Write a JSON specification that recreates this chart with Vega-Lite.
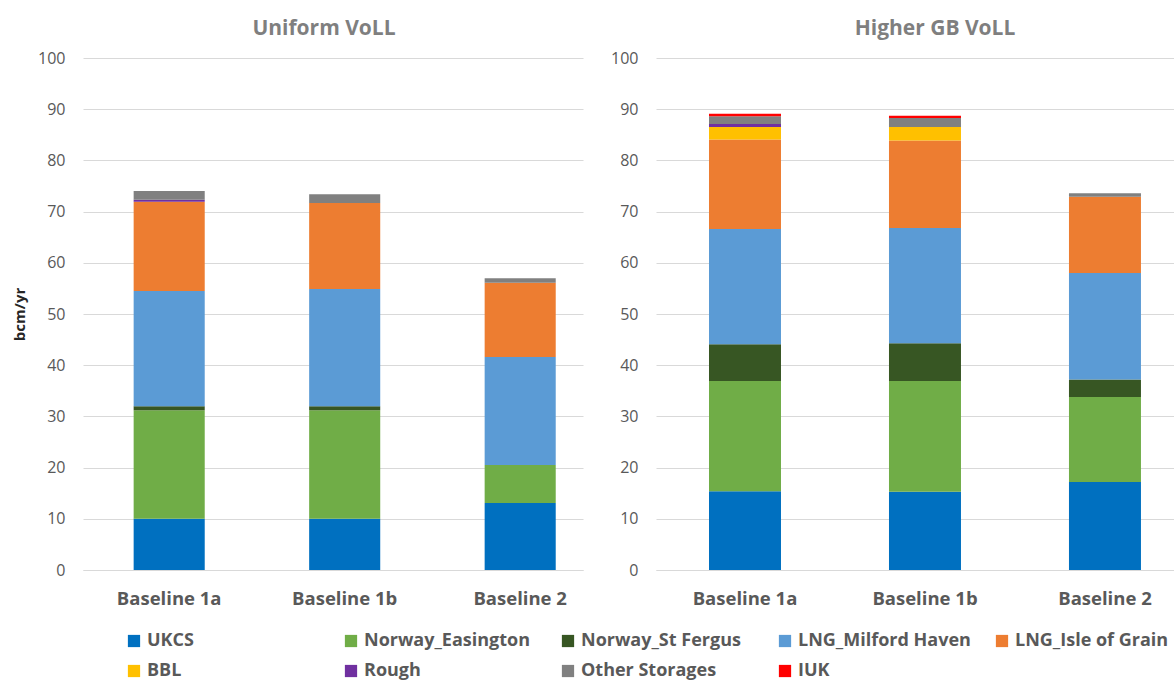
{
  "$schema": "https://vega.github.io/schema/vega-lite/v6.json",
  "padding": {"left": 12, "top": 18, "right": 0, "bottom": 0},
  "background": "white",
  "config": {
    "font": "Open Sans",
    "view": {"stroke": null},
    "concat": {"spacing": 27},
    "title": {"fontSize": 21, "fontWeight": "bold", "color": "#7F7F7F", "offset": 11, "anchor": "middle"},
    "axisY": {
      "grid": true, "gridColor": "#D9D9D9", "gridWidth": 1.2,
      "domain": false, "ticks": false,
      "labelFontSize": 16, "labelColor": "#595959", "labelPadding": 18,
      "values": [0, 10, 20, 30, 40, 50, 60, 70, 80, 90, 100]
    },
    "axisX": {
      "domain": true, "domainColor": "#D9D9D9", "domainWidth": 1.2, "ticks": false, "grid": false,
      "labelAngle": 0, "labelFontSize": 18.5, "labelFontWeight": "bold", "labelColor": "#595959", "labelPadding": 19,
      "title": null
    },
    "legend": {
      "symbolType": "square", "symbolSize": 150, "symbolStrokeWidth": 0,
      "labelFontSize": 18, "labelFontWeight": "bold", "labelColor": "#595959", "labelLimit": 400,
      "labelOffset": 4, "columns": 5, "direction": "horizontal", "gridAlign": "all", "columnPadding": 22, "rowPadding": 12
    }
  },
  "datasets": {
    "uniform": [
      {"scenario": "Baseline 1a", "source": "UKCS", "bcm": 10.0},
      {"scenario": "Baseline 1a", "source": "Norway_Easington", "bcm": 21.2},
      {"scenario": "Baseline 1a", "source": "Norway_St Fergus", "bcm": 0.8},
      {"scenario": "Baseline 1a", "source": "LNG_Milford Haven", "bcm": 22.5},
      {"scenario": "Baseline 1a", "source": "LNG_Isle of Grain", "bcm": 17.4},
      {"scenario": "Baseline 1a", "source": "BBL", "bcm": 0},
      {"scenario": "Baseline 1a", "source": "Rough", "bcm": 0.4},
      {"scenario": "Baseline 1a", "source": "Other Storages", "bcm": 1.7},
      {"scenario": "Baseline 1a", "source": "IUK", "bcm": 0},
      {"scenario": "Baseline 1b", "source": "UKCS", "bcm": 10.0},
      {"scenario": "Baseline 1b", "source": "Norway_Easington", "bcm": 21.2},
      {"scenario": "Baseline 1b", "source": "Norway_St Fergus", "bcm": 0.8},
      {"scenario": "Baseline 1b", "source": "LNG_Milford Haven", "bcm": 22.9},
      {"scenario": "Baseline 1b", "source": "LNG_Isle of Grain", "bcm": 16.8},
      {"scenario": "Baseline 1b", "source": "BBL", "bcm": 0},
      {"scenario": "Baseline 1b", "source": "Rough", "bcm": 0},
      {"scenario": "Baseline 1b", "source": "Other Storages", "bcm": 1.7},
      {"scenario": "Baseline 1b", "source": "IUK", "bcm": 0},
      {"scenario": "Baseline 2", "source": "UKCS", "bcm": 13.1},
      {"scenario": "Baseline 2", "source": "Norway_Easington", "bcm": 7.4},
      {"scenario": "Baseline 2", "source": "Norway_St Fergus", "bcm": 0},
      {"scenario": "Baseline 2", "source": "LNG_Milford Haven", "bcm": 21.1},
      {"scenario": "Baseline 2", "source": "LNG_Isle of Grain", "bcm": 14.5},
      {"scenario": "Baseline 2", "source": "BBL", "bcm": 0},
      {"scenario": "Baseline 2", "source": "Rough", "bcm": 0},
      {"scenario": "Baseline 2", "source": "Other Storages", "bcm": 0.9},
      {"scenario": "Baseline 2", "source": "IUK", "bcm": 0}
    ],
    "higher": [
      {"scenario": "Baseline 1a", "source": "UKCS", "bcm": 15.4},
      {"scenario": "Baseline 1a", "source": "Norway_Easington", "bcm": 21.5},
      {"scenario": "Baseline 1a", "source": "Norway_St Fergus", "bcm": 7.2},
      {"scenario": "Baseline 1a", "source": "LNG_Milford Haven", "bcm": 22.5},
      {"scenario": "Baseline 1a", "source": "LNG_Isle of Grain", "bcm": 17.5},
      {"scenario": "Baseline 1a", "source": "BBL", "bcm": 2.4},
      {"scenario": "Baseline 1a", "source": "Rough", "bcm": 0.6},
      {"scenario": "Baseline 1a", "source": "Other Storages", "bcm": 1.5},
      {"scenario": "Baseline 1a", "source": "IUK", "bcm": 0.5},
      {"scenario": "Baseline 1b", "source": "UKCS", "bcm": 15.3},
      {"scenario": "Baseline 1b", "source": "Norway_Easington", "bcm": 21.6},
      {"scenario": "Baseline 1b", "source": "Norway_St Fergus", "bcm": 7.4},
      {"scenario": "Baseline 1b", "source": "LNG_Milford Haven", "bcm": 22.5},
      {"scenario": "Baseline 1b", "source": "LNG_Isle of Grain", "bcm": 17.1},
      {"scenario": "Baseline 1b", "source": "BBL", "bcm": 2.6},
      {"scenario": "Baseline 1b", "source": "Rough", "bcm": 0},
      {"scenario": "Baseline 1b", "source": "Other Storages", "bcm": 1.8},
      {"scenario": "Baseline 1b", "source": "IUK", "bcm": 0.4},
      {"scenario": "Baseline 2", "source": "UKCS", "bcm": 17.2},
      {"scenario": "Baseline 2", "source": "Norway_Easington", "bcm": 16.6},
      {"scenario": "Baseline 2", "source": "Norway_St Fergus", "bcm": 3.4},
      {"scenario": "Baseline 2", "source": "LNG_Milford Haven", "bcm": 20.8},
      {"scenario": "Baseline 2", "source": "LNG_Isle of Grain", "bcm": 14.9},
      {"scenario": "Baseline 2", "source": "BBL", "bcm": 0},
      {"scenario": "Baseline 2", "source": "Rough", "bcm": 0},
      {"scenario": "Baseline 2", "source": "Other Storages", "bcm": 0.7},
      {"scenario": "Baseline 2", "source": "IUK", "bcm": 0}
    ]
  },
  "hconcat": [
    {
      "title": {"text": "Uniform VoLL", "dx": -9},
      "data": {"name": "uniform"},
      "transform": [
        {"calculate": "indexof(['UKCS', 'Norway_Easington', 'Norway_St Fergus', 'LNG_Milford Haven', 'LNG_Isle of Grain', 'BBL', 'Rough', 'Other Storages', 'IUK'], datum.source)", "as": "stack_rank"}
      ],
      "width": 500,
      "height": 512,
      "mark": {"type": "bar"},
      "encoding": {
        "x": {
          "field": "scenario", "type": "nominal", "sort": null,
          "scale": {"paddingInner": 0.595, "paddingOuter": 0.222, "align": 0.65}
        },
        "y": {
          "field": "bcm", "type": "quantitative", "stack": "zero",
          "scale": {"domain": [0, 100], "nice": false},
          "axis": {"title": "bcm/yr", "titleFontSize": 15, "titleFontWeight": "bold", "titleColor": "#262626", "titlePadding": 10}
        },
        "order": {"field": "stack_rank", "type": "quantitative", "sort": "ascending"},
        "color": {
          "field": "source", "type": "nominal",
          "sort": ["UKCS", "Norway_Easington", "Norway_St Fergus", "LNG_Milford Haven", "LNG_Isle of Grain", "BBL", "Rough", "Other Storages", "IUK"],
          "scale": {
            "domain": ["UKCS", "Norway_Easington", "Norway_St Fergus", "LNG_Milford Haven", "LNG_Isle of Grain", "BBL", "Rough", "Other Storages", "IUK"],
            "range": ["#0070C0", "#70AD47", "#375623", "#5B9BD5", "#ED7D31", "#FFC000", "#7030A0", "#808080", "#FF0000"]
          },
          "legend": {"title": null, "orient": "none", "legendX": 42, "legendY": 574}
        }
      }
    },
    {
      "title": {"text": "Higher GB VoLL", "dx": 20},
      "data": {"name": "higher"},
      "transform": [
        {"calculate": "indexof(['UKCS', 'Norway_Easington', 'Norway_St Fergus', 'LNG_Milford Haven', 'LNG_Isle of Grain', 'BBL', 'Rough', 'Other Storages', 'IUK'], datum.source)", "as": "stack_rank"}
      ],
      "width": 518,
      "height": 512,
      "mark": {"type": "bar"},
      "encoding": {
        "x": {
          "field": "scenario", "type": "nominal", "sort": null,
          "scale": {"paddingInner": 0.6, "paddingOuter": 0.239, "align": 0.616}
        },
        "y": {
          "field": "bcm", "type": "quantitative", "stack": "zero",
          "scale": {"domain": [0, 100], "nice": false},
          "axis": {"title": null}
        },
        "order": {"field": "stack_rank", "type": "quantitative", "sort": "ascending"},
        "color": {
          "field": "source", "type": "nominal",
          "sort": ["UKCS", "Norway_Easington", "Norway_St Fergus", "LNG_Milford Haven", "LNG_Isle of Grain", "BBL", "Rough", "Other Storages", "IUK"],
          "legend": {"title": null, "orient": "none", "legendX": 42, "legendY": 574}
        }
      }
    }
  ]
}
